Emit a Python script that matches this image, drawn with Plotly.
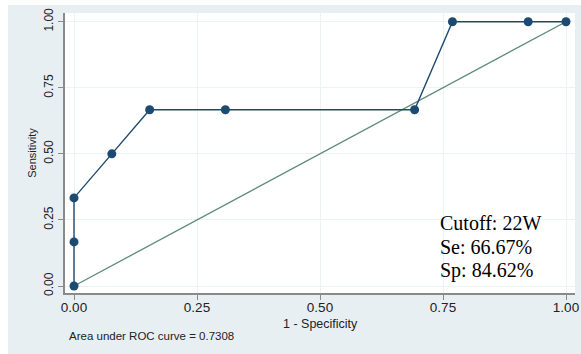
import plotly.graph_objects as go

# ROC data
fpr = [0.0, 0.0, 0.0, 0.0769, 0.1538, 0.3077, 0.6923, 0.7692, 0.9231, 1.0]
tpr = [0.0, 0.1667, 0.3333, 0.5, 0.6667, 0.6667, 0.6667, 1.0, 1.0, 1.0]
ref_x = [0.0, 1.0]
ref_y = [0.0, 1.0]
ticks = [0.0, 0.25, 0.5, 0.75, 1.0]
tick_text = ["0.00", "0.25", "0.50", "0.75", "1.00"]
x_title = "1 - Specificity"
y_title = "Sensitivity"
auc_text = "Area under ROC curve = 0.7308"
note_lines = ["Cutoff: 22W", "Se: 66.67%", "Sp: 84.62%"]
note_y = [0.238, 0.148, 0.057]

W, H = 581, 354
L, R, T, B = 65, 6, 13, 61
PW, PH = W - L - R, H - T - B

fig = go.Figure()
fig.add_trace(go.Scatter(x=ref_x, y=ref_y, mode="lines",
                         line=dict(color="#5b8c78", width=1.3), hoverinfo="skip"))
fig.add_trace(go.Scatter(x=fpr, y=tpr, mode="lines+markers",
                         line=dict(color="#1d4a70", width=1.4),
                         marker=dict(color="#1d4a70", size=9)))

# white page strips (left and top)
fig.add_shape(type="rect", xref="paper", yref="paper",
              x0=-L/PW, x1=(8 - L)/PW, y0=-B/PH, y1=1 + T/PH,
              fillcolor="white", line=dict(width=0), layer="below")
fig.add_shape(type="rect", xref="paper", yref="paper",
              x0=-L/PW, x1=1 + R/PW, y0=1 + (T - 5)/PH, y1=1 + T/PH,
              fillcolor="white", line=dict(width=0), layer="below")

for txt, yy in zip(note_lines, note_y):
    fig.add_annotation(x=0.74, xanchor="left", y=yy, yanchor="middle",
                       xref="x", yref="y", text=txt, showarrow=False, align="left",
                       font=dict(family="Liberation Serif", size=20, color="black"))
fig.add_annotation(x=0.5, xanchor="center", y=-31/PH, yanchor="middle",
                   xref="paper", yref="paper", text=x_title, showarrow=False,
                   borderpad=0,
                   font=dict(family="Liberation Sans", size=12.5, color="#222"))
fig.add_annotation(x=3/PW, xanchor="left", y=-43/PH, yanchor="middle",
                   xref="paper", yref="paper", text=auc_text, showarrow=False,
                   borderpad=0,
                   font=dict(family="Liberation Sans", size=11.5, color="#222"))

axis_common = dict(showline=True, linecolor="#8a8a8a", linewidth=1.5,
                   ticks="outside", ticklen=5, tickcolor="#8a8a8a",
                   showgrid=True, gridcolor="#edf2f4", gridwidth=1,
                   zeroline=False, tickvals=ticks, ticktext=tick_text,
                   automargin=False)

fig.update_xaxes(range=[-9/492, 1 + 9/492], ticklabelstandoff=-4,
                 tickfont=dict(family="Liberation Sans", size=13.5, color="#222"),
                 **axis_common)
fig.update_yaxes(range=[-7/264.3, 1 + 8.7/264.3], tickangle=-90,
                 tickfont=dict(family="Liberation Sans", size=12, color="#222"),
                 title=dict(text=y_title, standoff=4,
                            font=dict(family="Liberation Sans", size=11, color="#222")),
                 **axis_common)

fig.update_layout(width=W, height=H, margin=dict(l=L, r=R, t=T, b=B),
                  paper_bgcolor="#e8eff2", plot_bgcolor="white", showlegend=False)
fig.write_html("out.html", config={"displayModeBar": False},
               post_script="document.body.style.margin='0';")
